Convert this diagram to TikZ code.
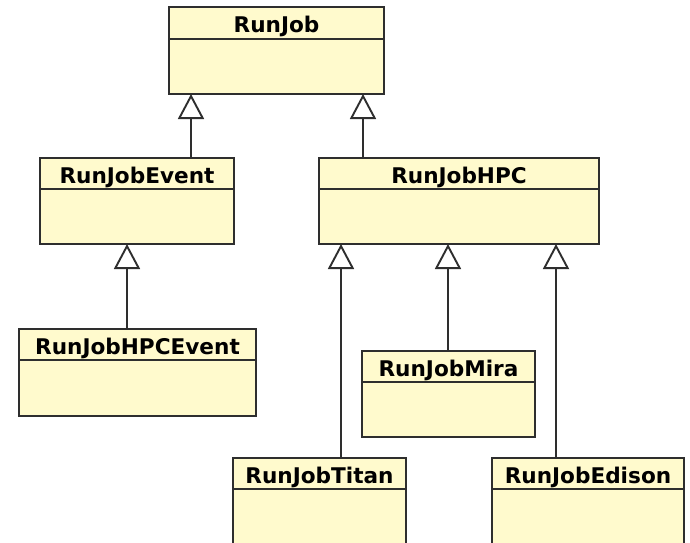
\documentclass[tikz,border=0pt]{standalone}
\usepackage{fontspec}
\setmainfont{DejaVu Sans}
\usetikzlibrary{arrows.meta}
\definecolor{classfill}{HTML}{FFFACD}
\definecolor{classdraw}{HTML}{2E2E2E}
\tikzset{
  x=1pt, y=-1pt,
  classbox/.style={draw=classdraw, fill=classfill, line width=1.9pt,
    rectangle, inner sep=0pt, outer sep=0pt, anchor=north west},
  classline/.style={draw=classdraw, line width=1.9pt},
  classname/.style={font=\fontsize{21.6}{24}\selectfont\bfseries, text=black,
    inner sep=0pt, anchor=base},
  inherit/.style={draw=classdraw, line width=1.9pt,
    -{Triangle[open, length=25pt, width=26pt, line width=1.9pt]}}
}
% \umlclass{name}{x}{y}{width}{height}{header height}{label}
\newcommand{\umlclass}[7]{%
  \node[classbox, minimum width=#4pt, minimum height=#5pt] (#1) at (#2,#3) {};
  \draw[classline] ([yshift=-#6pt]#1.north west) -- ([yshift=-#6pt]#1.north east);
  \node[classname] (#1-name) at ([yshift=-25pt]#1.north) {#7};
}
\begin{document}
\begin{tikzpicture}
\clip (0,0) rectangle (690,542);
\fill[white] (0,0) rectangle (690,542);

\umlclass{runjob}{169}{7}{215}{87}{32}{RunJob}
\umlclass{event}{40}{158}{194}{86}{31}{RunJobEvent}
\umlclass{hpc}{319}{158}{280}{86}{31}{RunJobHPC}
\umlclass{hpcevent}{19}{329}{237}{87}{31}{RunJobHPCEvent}
\umlclass{mira}{362}{351}{173}{86}{31}{RunJobMira}
\umlclass{titan}{233}{458}{173}{110}{31}{RunJobTitan}
\umlclass{edison}{492}{458}{192}{110}{31}{RunJobEdison}

% generalisations
\draw[inherit] ([xshift=151pt]event.north west) -- ([xshift=151pt]event.north west |- runjob.south);
\draw[inherit] ([xshift=44pt]hpc.north west) -- ([xshift=44pt]hpc.north west |- runjob.south);
\draw[inherit] ([xshift=108pt]hpcevent.north west) -- ([xshift=108pt]hpcevent.north west |- event.south);
\draw[inherit] ([xshift=108pt]titan.north west) -- ([xshift=108pt]titan.north west |- hpc.south);
\draw[inherit] ([xshift=86pt]mira.north west) -- ([xshift=86pt]mira.north west |- hpc.south);
\draw[inherit] ([xshift=64pt]edison.north west) -- ([xshift=64pt]edison.north west |- hpc.south);
\end{tikzpicture}
\end{document}
